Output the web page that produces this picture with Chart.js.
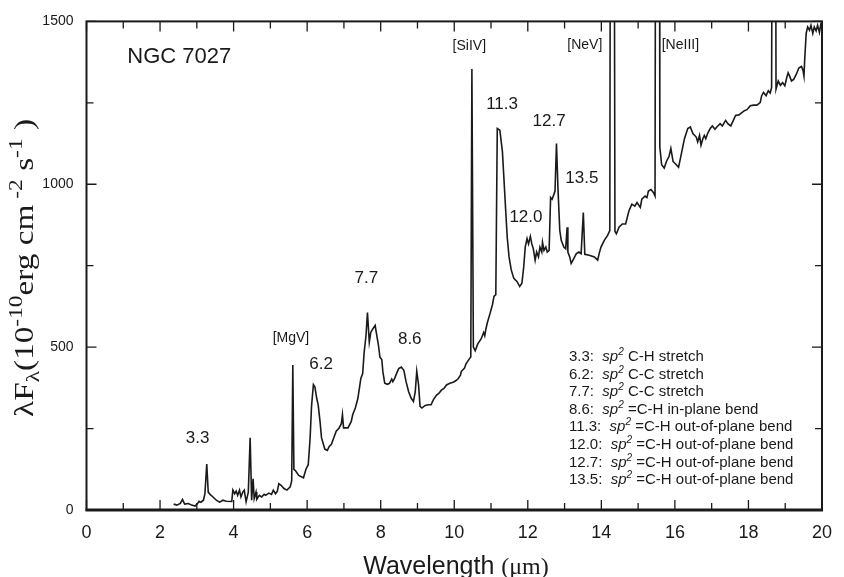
<!DOCTYPE html>
<html><head><meta charset="utf-8">
<script src="https://cdn.jsdelivr.net/npm/chart.js@4.4.0/dist/chart.umd.min.js"></script>
<style>html,body{margin:0;padding:0;background:#fff;}</style>
</head><body>
<canvas id="c" width="844" height="577"></canvas>
<script>
// ---- data ----
const wavelength = [
2.37,2.46,2.55,2.61,2.67,2.77,2.86,2.95,3.02,3.06,3.11,3.18,3.22,3.27,3.31,3.36,3.44,3.53,3.62,3.71,3.80,3.95,
3.98,4.03,4.07,4.11,4.16,4.20,4.25,4.29,4.34,4.40,4.45,4.49,4.53,4.56,4.61,4.63,4.70,4.76,4.83,4.87,4.96,5.03,
5.08,5.14,5.19,5.23,5.29,5.37,5.45,5.54,5.58,5.61,5.64,5.68,5.77,5.90,5.97,6.03,6.08,6.12,6.17,6.21,6.26,6.30,
6.35,6.39,6.48,6.55,6.60,6.66,6.71,6.79,6.87,6.93,6.96,6.99,7.05,7.11,7.20,7.24,7.31,7.38,7.46,7.51,7.55,7.60,
7.64,7.69,7.73,7.78,7.85,7.88,7.94,7.98,8.03,8.06,8.11,8.18,8.24,8.30,8.33,8.38,8.45,8.49,8.56,8.63,8.69,8.76,
8.83,8.89,8.94,8.98,9.03,9.07,9.12,9.21,9.30,9.37,9.43,9.52,9.58,9.65,9.72,9.79,9.88,9.97,10.03,10.10,10.17,
10.19,10.28,10.32,10.41,10.45,10.48,10.52,10.57,10.64,10.73,10.80,10.83,10.86,10.90,10.98,11.04,11.08,11.13,
11.17,11.24,11.31,11.35,11.40,11.44,11.49,11.55,11.62,11.71,11.78,11.84,11.89,11.93,11.98,12.02,12.07,12.11,
12.15,12.20,12.24,12.29,12.33,12.38,12.40,12.44,12.49,12.53,12.58,12.62,12.66,12.71,12.74,12.78,12.82,12.87,
12.91,12.98,13.03,13.07,13.09,13.14,13.18,13.25,13.32,13.39,13.45,13.51,13.55,13.67,13.81,13.90,13.94,13.99,
14.08,14.17,14.23,14.26,14.33,14.37,14.41,14.48,14.57,14.66,14.75,14.83,14.91,14.97,15.06,15.10,15.19,15.24,
15.28,15.35,15.42,15.46,15.49,15.57,15.59,15.64,15.71,15.77,15.84,15.89,15.95,16.04,16.10,16.17,16.26,16.35,
16.42,16.49,16.58,16.62,16.67,16.71,16.76,16.80,16.84,16.89,16.96,17.02,17.09,17.14,17.23,17.29,17.38,17.44,
17.52,17.59,17.65,17.74,17.83,17.89,17.96,18.05,18.14,18.23,18.32,18.36,18.41,18.48,18.54,18.59,18.63,18.67,
18.72,18.75,18.81,18.87,18.93,18.99,19.04,19.08,19.12,19.17,19.23,19.30,19.37,19.44,19.48,19.51,19.53,19.57,
19.61,19.66,19.70,19.75,19.79,19.84,19.88,19.93,19.97,20.0];
const flux = [
18,15,20,32,18,20,15,12,20,27,24,30,50,141,55,48,40,30,24,30,27,26,
61,50,58,45,61,40,55,61,25,55,222,30,96,35,55,33,45,40,48,45,52,48,
61,50,58,81,76,66,61,71,90,445,125,121,106,99,126,139,220,320,385,378,343,323,
272,222,187,183,195,202,217,242,252,265,293,252,252,252,272,293,313,343,404,419,484,535,
606,515,545,555,567,545,505,469,462,424,389,386,389,402,394,404,424,434,439,429,394,363,
343,333,363,426,384,318,313,321,323,323,338,353,358,368,373,384,389,392,396,402,414,
425,436,449,464,470,1354,500,489,510,525,545,535,555,575,606,631,656,661,
1171,1166,1100,1019,918,838,777,737,711,701,686,696,747,807,833,817,840,817,
802,767,792,777,807,792,822,797,807,792,797,959,954,969,979,1125,989,858,
828,807,802,868,792,777,757,772,787,792,787,913,785,782,777,767,787,807,
828,843,858,3000,3000,855,848,868,878,878,918,939,933,944,929,954,964,959,
979,984,974,964,3000,3000,1115,1060,1050,1070,1085,1110,1070,1060,1052,1090,1140,1171,
1176,1156,1145,1130,1150,1120,1140,1150,1140,1156,1171,1179,1169,1176,1186,1179,1196,1186,
1179,1196,1211,1213,1221,1226,1229,1241,1243,1243,1251,1272,1282,1272,1287,1280,1297,3000,
3000,1292,1317,1304,1312,1302,1327,1342,1332,1317,1322,1337,1357,1362,1352,1332,1383,1463,
1483,1473,1488,1463,1483,1471,1488,1466,1493,1498];
const xTickValues = [0,2,4,6,8,10,12,14,16,18,20];
const yTickValues = [0,500,1000,1500];

// band labels (text, wavelength, flux where the label sits)
const bandLabels = ['3.3','6.2','7.7','8.6','11.3','12.0','12.7','13.5'];
const bandLabelX = [3.02,6.38,7.61,8.79,11.30,11.95,12.58,13.47];
const bandLabelY = [221,448,710,524,1244,899,1193,1017];
// ionic line labels
const ionLabels = ['[MgV]','[SiIV]','[NeV]','[NeIII]'];
const ionLabelX = [5.56,10.41,13.55,16.15];
const ionLabelY = [527,1423,1426,1426];
const title = 'NGC 7027';
// legend of band assignments
const legendBands = ['3.3','6.2','7.7','8.6','11.3','12.0','12.7','13.5'];
const legendModes = ['C-H stretch','C-C stretch','C-C stretch','=C-H in-plane bend',
  '=C-H out-of-plane bend','=C-H out-of-plane bend','=C-H out-of-plane bend','=C-H out-of-plane bend'];

const SANS = '"Liberation Sans", Arial, sans-serif';
const SERIF = '"Liberation Serif", "Times New Roman", serif';
const INK = '#1a1a1a';

function drawRuns(ctx, x, y, runs) {
  for (const r of runs) {
    ctx.font = r.font;
    ctx.fillText(r.t, x, y + (r.dy || 0));
    x += ctx.measureText(r.t).width;
  }
  return x;
}
function runsWidth(ctx, runs) {
  let w = 0;
  for (const r of runs) { ctx.font = r.font; w += ctx.measureText(r.t).width; }
  return w;
}

const framePlugin = {
  id: 'frame',
  afterDatasetsDraw(chart) {
    const {ctx, chartArea: a, scales: {x, y}} = chart;
    ctx.save();
    ctx.strokeStyle = INK;
    ctx.lineWidth = 1.3;
    ctx.beginPath();
    for (let v = 0; v <= 20; v += 1) {
      const px = x.getPixelForValue(v);
      const len = v % 2 === 0 ? 10 : 7;
      ctx.moveTo(px, a.bottom); ctx.lineTo(px, a.bottom - len);
      ctx.moveTo(px, a.top); ctx.lineTo(px, a.top + len);
    }
    for (let v = 0; v <= 1500; v += 250) {
      const py = y.getPixelForValue(v);
      const len = v % 500 === 0 ? 10 : 7;
      ctx.moveTo(a.left, py); ctx.lineTo(a.left + len, py);
      ctx.moveTo(a.right, py); ctx.lineTo(a.right - len, py);
    }
    ctx.stroke();
    ctx.lineWidth = 2;
    ctx.strokeRect(a.left, a.top, a.right - a.left, a.bottom - a.top);
    ctx.lineWidth = 3;
    ctx.beginPath(); ctx.moveTo(a.left - 1, a.bottom); ctx.lineTo(a.right + 1, a.bottom); ctx.stroke();
    ctx.restore();
  }
};

const textPlugin = {
  id: 'texts',
  afterDraw(chart) {
    const {ctx, chartArea: a, scales: {x, y}} = chart;
    ctx.save();
    ctx.fillStyle = INK;
    // title inside plot
    ctx.textBaseline = 'middle';
    ctx.textAlign = 'left';
    ctx.font = '22px ' + SANS;
    ctx.fillText(title, x.getPixelForValue(1.11), y.getPixelForValue(1390));
    // band labels
    ctx.textAlign = 'center';
    ctx.font = '17px ' + SANS;
    bandLabels.forEach((t, i) => ctx.fillText(t, x.getPixelForValue(bandLabelX[i]), y.getPixelForValue(bandLabelY[i])));
    ctx.font = '14px ' + SANS;
    ionLabels.forEach((t, i) => ctx.fillText(t, x.getPixelForValue(ionLabelX[i]), y.getPixelForValue(ionLabelY[i])));
    // legend block
    ctx.textAlign = 'left';
    ctx.textBaseline = 'alphabetic';
    const lx = 569, ly0 = 361, dy = 17.6;
    legendBands.forEach((b, i) => {
      drawRuns(ctx, lx, ly0 + i * dy, [
        {t: b + ':  ', font: '15px ' + SANS},
        {t: 'sp', font: 'italic 15px ' + SANS},
        {t: '2', font: 'italic 10px ' + SANS, dy: -6},
        {t: ' ' + legendModes[i], font: '15px ' + SANS}
      ]);
    });
    // x axis title
    const xr = [
      {t: 'Wavelength ', font: '25px ' + SANS},
      {t: '(\u03BCm)', font: '24px ' + SERIF}
    ];
    const xw = runsWidth(ctx, xr);
    drawRuns(ctx, 456 - xw / 2, 574, xr);
    // y axis title (rotated)
    const yr = [
      {t: '\u03BBF', font: '27px ' + SERIF},
      {t: '\u03BB', font: '19px ' + SERIF, dy: 6},
      {t: '(10', font: '27px ' + SERIF},
      {t: '-10', font: '19px ' + SERIF, dy: -11},
      {t: 'erg cm', font: '27px ' + SERIF},
      {t: ' -2', font: '19px ' + SERIF, dy: -11},
      {t: ' s', font: '27px ' + SERIF},
      {t: '-1', font: '19px ' + SERIF, dy: -11},
      {t: ' )', font: '27px ' + SERIF}
    ];
    const yw = runsWidth(ctx, yr);
    const stretch = 298 / yw;
    ctx.translate(33, 268);
    ctx.rotate(-Math.PI / 2);
    ctx.scale(stretch, 1);
    drawRuns(ctx, -yw / 2, 0, yr);
    ctx.restore();
  }
};

new Chart(document.getElementById('c'), {
  type: 'line',
  data: {
    datasets: [{
      data: wavelength.map((w, i) => ({x: w, y: flux[i]})),
      borderColor: INK, borderWidth: 1.6, pointRadius: 0, tension: 0, fill: false
    }]
  },
  options: {
    responsive: false, animation: false, devicePixelRatio: 1,
    layout: {padding: {top: 14, right: 11, left: 0, bottom: 0}},
    plugins: {legend: {display: false}, tooltip: {enabled: false}},
    scales: {
      x: {
        type: 'linear', min: 0, max: 20,
        grid: {display: false, drawTicks: false}, border: {display: false},
        afterBuildTicks: s => { s.ticks = xTickValues.map(v => ({value: v})); },
        ticks: {font: {family: SANS, size: 18}, color: INK, padding: 12, maxRotation: 0, autoSkip: false,
                callback: v => String(v)},
        afterFit: s => { s.height = 67; }
      },
      y: {
        type: 'linear', min: 0, max: 1500,
        grid: {display: false, drawTicks: false}, border: {display: false},
        afterBuildTicks: s => { s.ticks = yTickValues.map(v => ({value: v})); },
        ticks: {font: {family: SANS, size: 14}, color: INK, padding: 13,
                callback: v => String(v)},
        afterFit: s => { s.width = 86.5; }
      }
    }
  },
  plugins: [framePlugin, textPlugin]
});
</script>
</body></html>
